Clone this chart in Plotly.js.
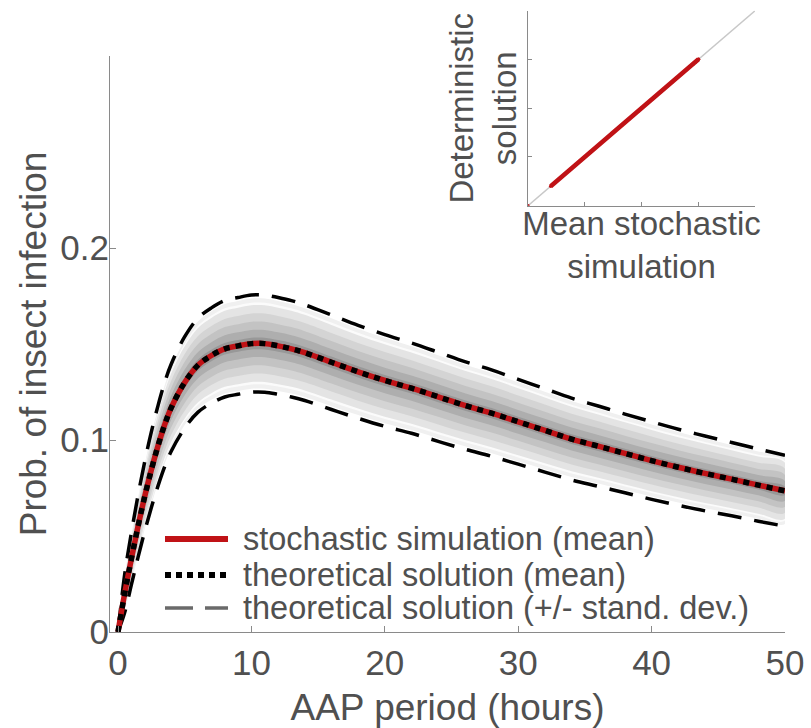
<!DOCTYPE html>
<html><head><meta charset="utf-8">
<script src="https://cdn.plot.ly/plotly-3.0.1.min.js"></script>
<style>html,body{margin:0;padding:0;background:#fff}#chart{width:811px;height:728px}</style>
</head><body><div id="chart"></div>
<script>
// ---- data ----
const hours = [0,0.5,1,1.5,2,2.5,3,3.5,4,5,6,7,8,9,10,11,12,13,14,16,18,20,22,24,26,28,30,32,34,36,38,40,42,44,46,48,50];
const simMean = [0,0.02,0.038,0.055,0.0705,0.0845,0.097,0.108,0.117,0.130,0.139,0.144,0.1475,0.149,0.1502,0.1502,0.149,0.1475,0.1455,0.1405,0.1355,0.131,0.127,0.1225,0.118,0.114,0.1095,0.105,0.1005,0.0968,0.093,0.0893,0.0858,0.0826,0.0796,0.0765,0.0735];
const theoMean = [0,0.02,0.038,0.055,0.0705,0.0845,0.097,0.108,0.117,0.130,0.139,0.144,0.1475,0.149,0.1502,0.1502,0.149,0.1475,0.1455,0.1405,0.1355,0.131,0.127,0.1225,0.118,0.114,0.1095,0.105,0.1005,0.0968,0.093,0.0893,0.0858,0.0826,0.0796,0.0765,0.0735];
const theoUpper = [0,0.0299,0.0515,0.0711,0.0886,0.1042,0.1179,0.1300,0.1397,0.1538,0.1635,0.1688,0.1726,0.1742,0.1755,0.1755,0.1742,0.1726,0.1704,0.1651,0.1597,0.1549,0.1505,0.1457,0.1408,0.1365,0.1316,0.1267,0.1218,0.1177,0.1135,0.1095,0.1056,0.1021,0.0987,0.0953,0.0920];
const theoLower = [0,0.0101,0.0245,0.0389,0.0524,0.0648,0.0761,0.0861,0.0943,0.1062,0.1145,0.1192,0.1224,0.1238,0.1249,0.1249,0.1238,0.1224,0.1206,0.1159,0.1113,0.1071,0.1035,0.0993,0.0952,0.0915,0.0874,0.0833,0.0792,0.0759,0.0725,0.0691,0.0660,0.0631,0.0605,0.0577,0.0551];
const diagLine = [0, 0.2];
const xTickVals = [0,10,20,30,40,50];
const yTickVals = [0,0.1,0.2];
const yTickText = ['0','0.1','0.2'];
const insetTicks = [0.05,0.1,0.15,0.2];
const legendLabels = ['stochastic simulation (mean)','theoretical solution (mean)','theoretical solution (+/- stand. dev.)'];

// ---- style ----
const FONT = '"Liberation Sans", Arial, sans-serif';
const TXT = '#505050';
const AX = '#8a8a8a';
const RED = 'rgb(192,18,22)';

const traces = [];
// density shading of the stochastic runs (layers between mean and +/- sd)
const layers = [[0.93,'#f0f0f0'],[0.84,'#fbfbfb'],[0.79,'#e4e4e4'],[0.62,'#d4d4d4'],[0.45,'#c3c3c3'],[0.28,'#aeaeae'],[0.12,'#989898']];
layers.forEach(([f,c]) => {
  const hi = hours.map((h,i) => simMean[i] + f*(theoUpper[i]-theoMean[i]));
  const lo = hours.map((h,i) => simMean[i] - f*(theoMean[i]-theoLower[i]));
  traces.push({x: hours.concat(hours.slice().reverse()), y: hi.concat(lo.slice().reverse()),
    type:'scatter', mode:'lines', fill:'toself', fillcolor:c, line:{width:0, color:c, shape:'spline'},
    hoverinfo:'skip', showlegend:false, xaxis:'x', yaxis:'y'});
});
traces.push({x:hours, y:theoUpper, type:'scatter', mode:'lines', name:'upper',
  line:{color:'#000', width:3.5, dash:'24px,13px', shape:'spline'}, showlegend:false});
traces.push({x:hours, y:theoLower, type:'scatter', mode:'lines', name:'lower',
  line:{color:'#000', width:3.5, dash:'24px,13px', shape:'spline'}, showlegend:false});
traces.push({x:hours, y:simMean, type:'scatter', mode:'lines', name:legendLabels[0],
  line:{color:RED, width:5.5, shape:'spline'}, showlegend:false});
traces.push({x:hours, y:theoMean, type:'scatter', mode:'lines', name:legendLabels[1],
  line:{color:'#000', width:5.5, dash:'6px,6px', shape:'spline'}, showlegend:false});

// inset
traces.push({x:diagLine, y:diagLine, type:'scatter', mode:'lines', xaxis:'x2', yaxis:'y2',
  line:{color:'#c8c8c8', width:1.5}, showlegend:false, hoverinfo:'skip'});
traces.push({x:simMean, y:theoMean, type:'scatter', mode:'markers', xaxis:'x2', yaxis:'y2',
  marker:{color:RED, size:3.5}, showlegend:false});
traces.push({x:simMean.slice(1), y:theoMean.slice(1), type:'scatter', mode:'lines', xaxis:'x2', yaxis:'y2',
  line:{color:RED, width:4.5}, showlegend:false});

// pixel -> paper helpers for the hand-drawn legend
const L = 110, R = 20, T = 10, B = 96, W = 811, H = 728;
const px = v => (v - L) / (W - L - R);
const py = v => (H - B - v) / (H - T - B);

const legendRows = [539, 575, 608];
const shapes = [
  {type:'line', xref:'paper', yref:'paper', x0:px(165), x1:px(228), y0:py(legendRows[0]), y1:py(legendRows[0]), line:{color:RED, width:6}},
  {type:'line', xref:'paper', yref:'paper', x0:px(165), x1:px(228), y0:py(legendRows[1]), y1:py(legendRows[1]), line:{color:'#000', width:6, dash:'6px,5px'}},
  {type:'line', xref:'paper', yref:'paper', x0:px(165), x1:px(228), y0:py(legendRows[2]), y1:py(legendRows[2]), line:{color:'#6a6a6a', width:3.5, dash:'28px,12px'}}
];
const annotations = legendLabels.map((t,i) => ({
  text:t, xref:'paper', yref:'paper', x:px(241), y:py(legendRows[i]), xanchor:'left', yanchor:'middle',
  showarrow:false, font:{size:32.5, color:TXT, family:FONT}
}));

const layout = {
  width:W, height:H, margin:{l:L, r:R, t:T, b:B},
  paper_bgcolor:'#fff', plot_bgcolor:'rgba(0,0,0,0)', showlegend:false,
  font:{family:FONT, color:TXT},
  xaxis:{domain:[0, 675/681], range:[-0.6, 50], tickvals:xTickVals, ticks:'inside', ticklen:6, tickcolor:AX,
    showline:true, linecolor:AX, linewidth:1, showgrid:false, zeroline:false,
    tickfont:{size:35, color:TXT}, title:{text:'AAP period (hours)', font:{size:37, color:TXT}}},
  yaxis:{domain:[0, 576/622], range:[0, 0.3], tickvals:yTickVals, ticktext:yTickText, ticks:'inside', ticklen:6, tickcolor:AX,
    showline:true, linecolor:AX, linewidth:1, showgrid:false, zeroline:false, ticklabelstandoff:-7,
    automargin:true, tickfont:{size:35, color:TXT},
    title:{text:'Prob. of insect infection', font:{size:37, color:TXT}, standoff:2}},
  xaxis2:{domain:[px(528), px(755)], range:[0, 0.2], anchor:'y2', tickvals:insetTicks, showticklabels:false,
    ticks:'inside', ticklen:4, tickcolor:AX, showline:true, linecolor:AX, linewidth:1, showgrid:false, zeroline:false,
    automargin:true, title:{text:'Mean stochastic<br>simulation', font:{size:33, color:TXT}, standoff:6}},
  yaxis2:{domain:[py(205.7), py(10.8)], range:[0, 0.2], anchor:'x2', tickvals:insetTicks, showticklabels:false,
    ticks:'inside', ticklen:4, tickcolor:AX, showline:true, linecolor:AX, linewidth:1, showgrid:false, zeroline:false,
    automargin:true, title:{text:'Deterministic<br>solution', font:{size:33, color:TXT}, standoff:0}},
  shapes:shapes, annotations:annotations
};

Plotly.newPlot('chart', traces, layout, {staticPlot:true, displayModeBar:false});
</script>
</body></html>
